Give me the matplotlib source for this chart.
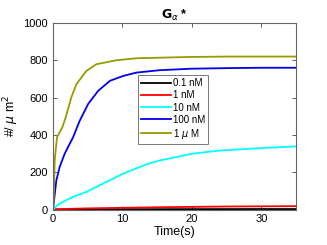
import matplotlib
matplotlib.use("Agg")
import matplotlib.pyplot as plt
import numpy as np

plt.rcParams['font.family'] = ['Liberation Sans', 'DejaVu Sans']
plt.rcParams['mathtext.fontset'] = 'dejavusans'

labels = ['0.1 nM', '1 nM', '10 nM', '100 nM', r'1 $\mu$ M']
colors = ['black', 'red', 'cyan', '#0000ee', '#999900']

t_black = [0, 1, 5, 10, 20, 30, 35]
v_black = [0, 0.5, 1, 1.5, 2, 2.5, 2.5]

t_red = [0, 1, 3, 5, 10, 15, 20, 25, 30, 35]
v_red = [0, 2, 4, 6, 9, 12, 14, 16, 17, 18]

t_cyan = [0, 0.7, 1.44, 2.9, 4.8, 7.2, 10.1, 12.5, 14, 15.4, 20.2, 24, 28.4, 32, 35]
v_cyan = [0, 25, 41, 68, 94, 139, 192, 228, 249, 263, 300, 316, 326, 333, 338]

t_blue = [0, 0.48, 0.96, 1.68, 2.9, 3.85, 5.05, 6.5, 8.2, 10.1, 12, 15.4, 20, 25, 30, 35]
v_blue = [0, 156, 228, 299, 388, 476, 565, 636, 690, 716, 734, 747, 755, 758, 760, 760]

t_olive = [0, 0.1, 0.24, 0.58, 1.35, 1.83, 2.64, 3.37, 4.8, 6.25, 9.1, 12, 15.4, 20, 25, 30, 35]
v_olive = [0, 50, 263, 388, 441, 494, 601, 672, 743, 779, 800, 811, 814, 818, 820, 820, 820]

series = [(t_black, v_black), (t_red, v_red), (t_cyan, v_cyan), (t_blue, v_blue), (t_olive, v_olive)]

fig = plt.figure(figsize=(3.27, 2.45), dpi=100)
ax = fig.add_axes([53/327, 1 - 209.5/245, 243/327, 186.5/245])

for (t, v), c, lab in zip(series, colors, labels):
    ax.plot(t, v, color=c, lw=1.3, label=lab)

ax.set_xlim(0, 35)
ax.set_ylim(0, 1000)
ax.set_xticks([0, 10, 20, 30])
ax.set_yticks([0, 200, 400, 600, 800, 1000])
ax.tick_params(direction='in', length=3, labelsize=8, top=True, right=True,
               colors='#444444', labelcolor='black', width=0.6)
for s in ax.spines.values():
    s.set_color('#666666')
    s.set_linewidth(0.8)

ax.set_xlabel('Time(s)', fontsize=9, labelpad=1)
ax.set_ylabel(r'#/ $\mu$ m$^2$', fontsize=9, labelpad=2)
ax.set_title(r'$\mathbf{G}_{\alpha}$ *', fontsize=9, fontweight='bold', pad=3)

leg = ax.legend(loc='upper left', bbox_to_anchor=(0.35, 0.722), fontsize=7, frameon=True,
                fancybox=False, edgecolor='#555555', handlelength=3.0, handletextpad=0.2,
                borderpad=0.35, labelspacing=0.22, borderaxespad=0)
leg.get_frame().set_linewidth(0.7)

fig.savefig('out.png', dpi=100)
